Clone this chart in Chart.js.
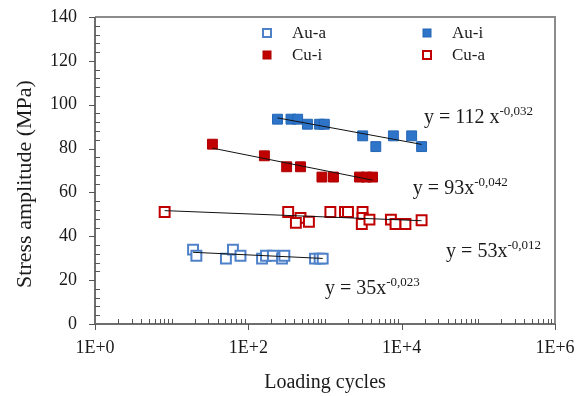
<!DOCTYPE html>
<html>
<head>
<meta charset="utf-8">
<script src="https://cdn.jsdelivr.net/npm/chart.js@4.4.1/dist/chart.umd.min.js"></script>
<style>
  html, body { margin: 0; padding: 0; background: #fff; }
</style>
</head>
<body>
<canvas id="fatigue-chart" width="582" height="396"></canvas>
<script>
const xTicks = [1, 100, 10000, 1000000];
const xTickLabels = ['1E+0', '1E+2', '1E+4', '1E+6'];

const seriesNames = ['Au-a', 'Au-i', 'Cu-i', 'Cu-a'];

const auaCycles = [19, 21, 51, 63, 79, 151, 170, 209, 275, 295, 741, 851, 933];
const auaStress = [33.9, 31.1, 29.8, 33.9, 31.1, 29.8, 31.1, 31.1, 29.8, 31.1, 29.8, 29.8, 29.8];

const auiCycles = [240, 360, 440, 590, 850, 980, 3100, 4600, 7800, 13500, 18200];
const auiStress = [93.4, 93.4, 93.4, 91.1, 91.1, 91.1, 85.8, 80.9, 85.8, 85.8, 80.9];

const cuiCycles = [34, 162, 316, 479, 912, 1290, 2820, 3470, 4170];
const cuiStress = [82, 76.7, 71.7, 71.7, 67, 67, 67, 67, 67];

const cuaCycles = [8.1, 331, 479, 417, 617, 1175, 1820, 1995, 3090, 3090, 3020, 3800, 7240, 8320, 11200, 18200];
const cuaStress = [51.1, 51.1, 48.4, 46.1, 46.6, 51.1, 51.1, 51.1, 51.1, 48.4, 45.6, 47.6, 47.6, 45.6, 45.6, 47.3];

// trend line ends (cycles, stress)
const auaFit = [[19, 32.7], [933, 29.9]];
const auiFit = [[240, 94.0], [18200, 81.9]];
const cuiFit = [[34, 80.2], [4170, 65.6]];
const cuaFit = [[8.1, 51.7], [18200, 47.1]];

const fitText = ['y = 35x', 'y = 112 x', 'y = 93x', 'y = 53x'];
const fitExp = ['-0,023', '-0,032', '-0,042', '-0,012'];

const serif = '"Liberation Serif", "Times New Roman", serif';

const toPoints = (xs, ys) => xs.map((x, i) => ({ x, y: ys[i] }));

function trend(pts) {
  return {
    data: pts.map(p => ({ x: p[0], y: p[1] })),
    showLine: true,
    borderColor: '#111',
    borderWidth: 1,
    pointRadius: 0,
    order: 0
  };
}

const marks = [
  { label: seriesNames[0], data: toPoints(auaCycles, auaStress), pointStyle: 'rect', pointRadius: 7,
    backgroundColor: '#fff', borderColor: '#4f81c9', borderWidth: 2, order: 1 },
  { label: seriesNames[1], data: toPoints(auiCycles, auiStress), pointStyle: 'rect', pointRadius: 7,
    backgroundColor: '#2e74c8', borderColor: '#2466b5', borderWidth: 1, order: 1 },
  { label: seriesNames[2], data: toPoints(cuiCycles, cuiStress), pointStyle: 'rect', pointRadius: 7,
    backgroundColor: '#c00000', borderColor: '#b00000', borderWidth: 1, order: 1 },
  { label: seriesNames[3], data: toPoints(cuaCycles, cuaStress), pointStyle: 'rect', pointRadius: 7,
    backgroundColor: '#fff', borderColor: '#c00000', borderWidth: 2, order: 1 }
];

// where each equation sits, in data units (left edge, middle of text)
const eqAt = [[1000, 16.9], [19500, 94.8], [14000, 62.7], [38000, 33.9]];

const decorations = {
  id: 'decorations',
  afterDraw(chart) {
    const { ctx, chartArea: a, scales: { x, y } } = chart;
    ctx.save();

    // frame
    ctx.lineWidth = 2;
    ctx.strokeStyle = '#8c8c8c';
    ctx.beginPath();
    ctx.moveTo(a.left, a.top); ctx.lineTo(a.right, a.top); ctx.lineTo(a.right, a.bottom);
    ctx.stroke();
    ctx.strokeStyle = '#6e6e6e';
    ctx.beginPath();
    ctx.moveTo(a.left, a.top); ctx.lineTo(a.left, a.bottom); ctx.lineTo(a.right, a.bottom);
    ctx.stroke();

    // y ticks: major out, minor in
    ctx.lineWidth = 1;
    ctx.strokeStyle = '#555';
    ctx.beginPath();
    for (let v = 0; v <= 140; v += 4) {
      const py = Math.round(y.getPixelForValue(v)) + 0.5;
      if (v % 20 === 0) { ctx.moveTo(a.left - 6, py); ctx.lineTo(a.left, py); }
      else { ctx.moveTo(a.left, py); ctx.lineTo(a.left + 5, py); }
    }
    // x ticks: decades of major out, the rest in
    for (let d = 1; d < 1000000; d *= 10) {
      for (let k = 1; k <= 9; k++) {
        const v = d * k;
        if (xTicks.includes(v)) continue;
        const px = Math.round(x.getPixelForValue(v)) + 0.5;
        ctx.moveTo(px, a.bottom); ctx.lineTo(px, a.bottom - 5);
      }
    }
    xTicks.forEach(v => {
      const px = Math.round(x.getPixelForValue(v)) + 0.5;
      ctx.moveTo(px, a.bottom); ctx.lineTo(px, a.bottom + 6);
    });
    ctx.stroke();

    // legend, two columns inside the plot
    const cols = [a.left + 172, a.left + 332];
    const rows = [a.top + 16, a.top + 38];
    ctx.font = '17px ' + serif;
    ctx.textBaseline = 'middle';
    ctx.textAlign = 'left';
    marks.forEach((m, i) => {
      const cx = cols[i % 2], cy = rows[Math.floor(i / 2)];
      ctx.fillStyle = m.backgroundColor;
      ctx.strokeStyle = m.borderColor;
      ctx.lineWidth = m.borderWidth;
      ctx.fillRect(cx - 4, cy - 4, 8, 8);
      ctx.strokeRect(cx - 4, cy - 4, 8, 8);
      ctx.fillStyle = '#1a1a1a';
      ctx.fillText(m.label, cx + 25, cy + 1);
    });

    // fit equations
    ctx.fillStyle = '#1a1a1a';
    ctx.textBaseline = 'alphabetic';
    fitText.forEach((t, i) => {
      const px = x.getPixelForValue(eqAt[i][0]);
      const py = y.getPixelForValue(eqAt[i][1]) + 7;
      ctx.font = '20px ' + serif;
      ctx.fillText(t, px, py);
      const w = ctx.measureText(t).width;
      ctx.font = '13px ' + serif;
      ctx.fillText(fitExp[i], px + w, py - 8);
    });

    // y title
    ctx.font = '22px ' + serif;
    ctx.textAlign = 'center';
    ctx.textBaseline = 'middle';
    ctx.translate(25, 184);
    ctx.rotate(-Math.PI / 2);
    ctx.fillText('Stress amplitude (MPa)', 0, 0);
    ctx.restore();
  }
};

new Chart(document.getElementById('fatigue-chart'), {
  type: 'scatter',
  data: {
    datasets: [trend(auaFit), trend(auiFit), trend(cuiFit), trend(cuaFit)].concat(marks)
  },
  options: {
    responsive: false,
    animation: false,
    events: [],
    layout: { padding: { left: 0, right: 27, top: 17, bottom: 0 } },
    plugins: { legend: { display: false }, tooltip: { enabled: false } },
    scales: {
      x: {
        type: 'logarithmic',
        min: 1,
        max: 1000000,
        afterFit: s => { s.height = 72; s.paddingLeft = 0; s.paddingRight = 0; },
        afterBuildTicks: s => { s.ticks = xTicks.map(v => ({ value: v })); },
        grid: { display: false, drawTicks: false },
        border: { display: false },
        ticks: {
          autoSkip: false,
          maxRotation: 0,
          padding: 13,
          color: '#1a1a1a',
          font: { family: serif, size: 18 },
          callback: (v, i) => xTickLabels[i]
        },
        title: {
          display: true,
          text: 'Loading cycles',
          color: '#1a1a1a',
          font: { family: serif, size: 20 },
          padding: { top: 0, bottom: 1 }
        }
      },
      y: {
        min: 0,
        max: 140,
        afterFit: s => { s.width = 95; s.paddingTop = 0; s.paddingBottom = 0; },
        grid: { display: false, drawTicks: false },
        border: { display: false },
        ticks: {
          stepSize: 20,
          padding: 18,
          color: '#1a1a1a',
          font: { family: serif, size: 18 }
        }
      }
    }
  },
  plugins: [decorations]
});
</script>
</body>
</html>
